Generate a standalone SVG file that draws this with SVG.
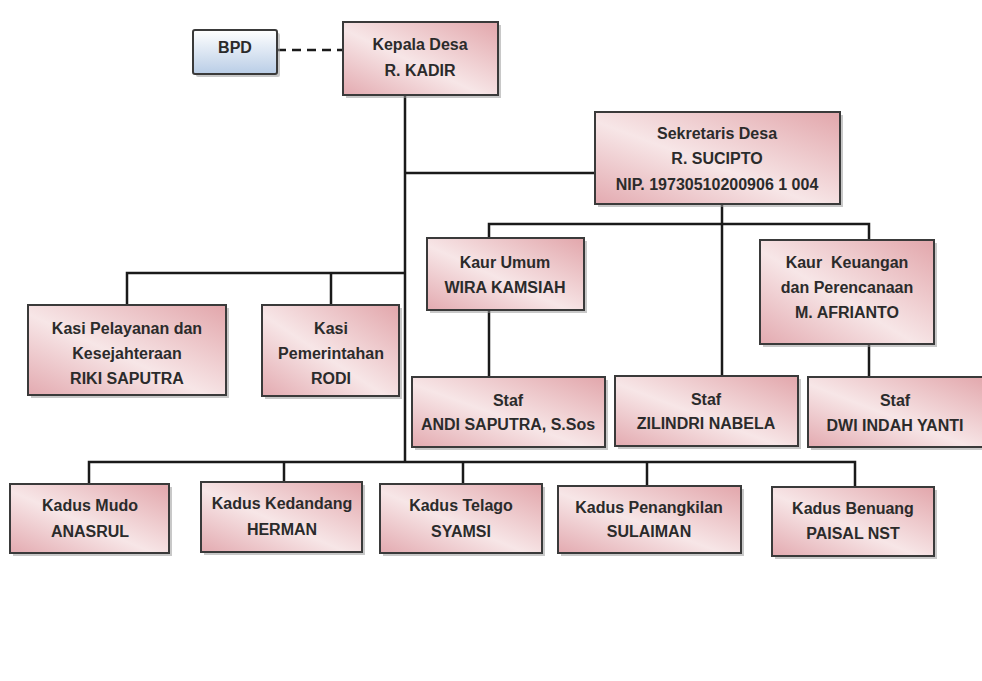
<svg xmlns="http://www.w3.org/2000/svg" width="982" height="681" viewBox="0 0 982 681">
<defs>
<linearGradient id="pink" x1="0" y1="1" x2="1" y2="0">
<stop offset="0" stop-color="#e3aab0"/>
<stop offset="0.45" stop-color="#f7e6e7"/>
<stop offset="1" stop-color="#e2a6ab"/>
</linearGradient>
<linearGradient id="blue" x1="0" y1="0" x2="0" y2="1">
<stop offset="0" stop-color="#ffffff"/>
<stop offset="1" stop-color="#b9cde6"/>
</linearGradient>
</defs>
<style>
.box{fill:url(#pink);stroke:#3a3a3a;stroke-width:2}
.bpd{fill:url(#blue);stroke:#3a3a3a;stroke-width:2}
.sh{fill:#9a9a9a;opacity:0.55}
text{font-family:"Liberation Sans",Arial,sans-serif;font-weight:bold;font-size:16px;fill:#2b2b2b;text-anchor:middle}
.pre{white-space:pre}
.ln{stroke:#1a1a1a;stroke-width:2.5;fill:none}
.dash{stroke:#1a1a1a;stroke-width:2.5;fill:none;stroke-dasharray:9,6}
</style>
<rect width="982" height="681" fill="#ffffff"/>
<g id="connectors">
<path class="dash" d="M277 50 H343"/>
<path class="ln" d="M405 95 V462"/>
<path class="ln" d="M405 173 H595"/>
<path class="ln" d="M722 204 V377"/>
<path class="ln" d="M489 238 V224 H869 V240"/>
<path class="ln" d="M489 310 V377"/>
<path class="ln" d="M869 344 V377"/>
<path class="ln" d="M127 305 V273 H405"/>
<path class="ln" d="M331 273 V305"/>
<path class="ln" d="M89 484 V462 H855 V487"/>
<path class="ln" d="M284 462 V482"/>
<path class="ln" d="M463 462 V484"/>
<path class="ln" d="M647 462 V486"/>
</g>
<g id="bpd">
<rect class="sh" x="196" y="33" width="84" height="44" rx="2"/>
<rect class="bpd" x="193" y="30" width="84" height="44" rx="2"/>
<text x="235" y="53">BPD</text>
</g>
<g id="kepala-desa">
<rect class="sh" x="346" y="25" width="155" height="73"/>
<rect class="box" x="343" y="22" width="155" height="73"/>
<text x="420" y="50">Kepala Desa</text>
<text x="420" y="76">R. KADIR</text>
</g>
<g id="sekretaris-desa">
<rect class="sh" x="598" y="115" width="245" height="92"/>
<rect class="box" x="595" y="112" width="245" height="92"/>
<text x="717" y="139">Sekretaris Desa</text>
<text x="717" y="164">R. SUCIPTO</text>
<text x="717" y="190">NIP. 19730510200906 1 004</text>
</g>
<g id="kaur-umum">
<rect class="sh" x="430" y="241" width="157" height="72"/>
<rect class="box" x="427" y="238" width="157" height="72"/>
<text x="505" y="268">Kaur Umum</text>
<text x="505" y="293">WIRA KAMSIAH</text>
</g>
<g id="kaur-keuangan">
<rect class="sh" x="763" y="243" width="174" height="104"/>
<rect class="box" x="760" y="240" width="174" height="104"/>
<text class="pre" x="847" y="268">Kaur  Keuangan</text>
<text x="847" y="293">dan Perencanaan</text>
<text x="847" y="318">M. AFRIANTO</text>
</g>
<g id="kasi-pelayanan">
<rect class="sh" x="31" y="308" width="198" height="90"/>
<rect class="box" x="28" y="305" width="198" height="90"/>
<text x="127" y="334">Kasi Pelayanan dan</text>
<text x="127" y="359">Kesejahteraan</text>
<text x="127" y="384">RIKI SAPUTRA</text>
</g>
<g id="kasi-pemerintahan">
<rect class="sh" x="265" y="308" width="137" height="91"/>
<rect class="box" x="262" y="305" width="137" height="91"/>
<text x="331" y="334">Kasi</text>
<text x="331" y="359">Pemerintahan</text>
<text x="331" y="384">RODI</text>
</g>
<g id="staf-andi">
<rect class="sh" x="415" y="380" width="193" height="70"/>
<rect class="box" x="412" y="377" width="193" height="70"/>
<text x="508" y="406">Staf</text>
<text x="508" y="430">ANDI SAPUTRA, S.Sos</text>
</g>
<g id="staf-zilindri">
<rect class="sh" x="618" y="379" width="183" height="70"/>
<rect class="box" x="615" y="376" width="183" height="70"/>
<text x="706" y="405">Staf</text>
<text x="706" y="429">ZILINDRI NABELA</text>
</g>
<g id="staf-dwi">
<rect class="sh" x="811" y="380" width="180" height="70"/>
<rect class="box" x="808" y="377" width="180" height="70"/>
<text x="895" y="406">Staf</text>
<text x="895" y="431">DWI INDAH YANTI</text>
</g>
<g id="kadus-mudo">
<rect class="sh" x="13" y="487" width="159" height="69"/>
<rect class="box" x="10" y="484" width="159" height="69"/>
<text x="90" y="511">Kadus Mudo</text>
<text x="90" y="537">ANASRUL</text>
</g>
<g id="kadus-kedandang">
<rect class="sh" x="204" y="485" width="161" height="70"/>
<rect class="box" x="201" y="482" width="161" height="70"/>
<text x="282" y="509">Kadus Kedandang</text>
<text x="282" y="535">HERMAN</text>
</g>
<g id="kadus-telago">
<rect class="sh" x="383" y="487" width="162" height="69"/>
<rect class="box" x="380" y="484" width="162" height="69"/>
<text x="461" y="511">Kadus Telago</text>
<text x="461" y="537">SYAMSI</text>
</g>
<g id="kadus-penangkilan">
<rect class="sh" x="561" y="489" width="183" height="67"/>
<rect class="box" x="558" y="486" width="183" height="67"/>
<text x="649" y="513">Kadus Penangkilan</text>
<text x="649" y="537">SULAIMAN</text>
</g>
<g id="kadus-benuang">
<rect class="sh" x="775" y="490" width="162" height="69"/>
<rect class="box" x="772" y="487" width="162" height="69"/>
<text x="853" y="514">Kadus Benuang</text>
<text x="853" y="539">PAISAL NST</text>
</g>
</svg>
